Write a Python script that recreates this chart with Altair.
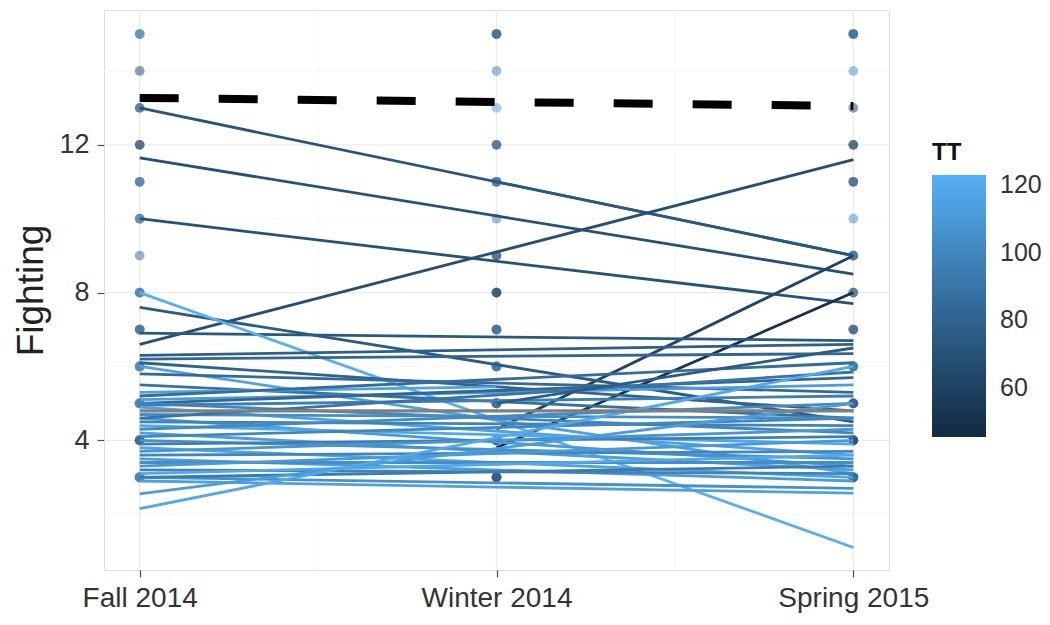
import altair as alt
import pandas as pd

# ---------------- data ----------------
time_labels = ["Fall 2014", "Winter 2014", "Spring 2015"]

# observed points: time index, Fighting value, TT colour, number of overlapping points
pt_time  = [0]*13 + [1]*13 + [2]*13
pt_value = [15, 14, 13, 12, 11, 10, 9, 8, 7, 6, 5, 4, 3] * 3
pt_tt    = [90, 60, 75, 60, 80, 85, 80, 95, 85, 100, 100, 85, 100,
            80, 95, 115, 70, 85, 95, 65, 65, 80, 90, 90, 75, 75,
            80, 105, 60, 60, 65, 100, 85, 70, 60, 85, 75, 70, 80]
pt_count = [2, 1, 2, 2, 2, 2, 1, 3, 3, 4, 6, 6, 6,
            3, 1, 1, 2, 3, 1, 2, 3, 3, 4, 6, 6, 5,
            3, 1, 1, 2, 2, 1, 3, 2, 2, 3, 4, 5, 5]

# per-subject fitted lines: start time, start value, end time, end value, TT
ln_x1 = [0, 0, 0, 1, 0, 1, 1, 0, 0, 0, 0, 0, 0, 0,
         0, 0, 0, 0, 0, 0, 0, 0, 0, 0, 0, 0, 0, 0, 0, 0, 0, 0, 0, 0, 0, 0, 0, 0, 0, 0, 0, 0, 0, 1,
         0, 0, 0]
ln_y1 = [13.0, 11.65, 10.0, 11.0, 6.6, 4.3, 3.8, 6.9, 7.6, 8.0, 6.3, 6.2, 6.1, 6.0,
         5.8, 5.5, 5.3, 5.2, 5.1, 5.0, 5.0, 4.95, 4.9, 4.7, 4.6, 4.6, 4.5, 4.4, 4.3, 4.2,
         4.1, 4.0, 3.9, 3.8, 3.7, 3.6, 3.5, 3.4, 3.3, 3.2, 3.1, 3.0, 3.0, 5.0,
         2.9, 2.55, 2.15]
ln_x2 = [2, 2, 2, 2, 2, 2, 2, 2, 2, 2, 2, 2, 2, 2,
         2, 2, 1, 2, 2, 2, 2, 2, 2, 2, 2, 2, 2, 2, 2, 2, 2, 2, 2, 2, 2, 2, 2, 2, 2, 2, 2, 2, 2, 2,
         2, 2, 2]
ln_y2 = [9.0, 8.5, 7.7, 9.0, 11.6, 9.0, 8.0, 6.7, 4.5, 1.1, 6.6, 6.35, 4.8, 3.1,
         5.3, 4.6, 5.45, 6.1, 5.5, 5.7, 4.2, 5.2, 3.6, 4.6, 3.3, 5.85, 4.4, 3.9, 5.0, 3.2,
         4.6, 3.5, 4.1, 3.0, 4.3, 3.7, 2.9, 3.4, 4.0, 3.1, 3.6, 2.7, 3.3, 6.5,
         2.57, 5.0, 6.0]
ln_tt = [72, 70, 70, 74, 68, 62, 50, 74, 76, 122, 78, 82, 80, 115,
         84, 88, 115, 86, 112, 82, 100, 96, 115, 104, 110, 90, 98, 118, 102, 113,
         100, 106, 96, 116, 108, 100, 112, 104, 110, 98, 118, 106, 94, 76,
         114, 112, 118]

mean_start, mean_end = 4.8, 4.8
ref_start, ref_end = 13.27, 13.05

major_y = [4, 8, 12]
minor_y = [2, 6, 10, 14]
major_x = [0, 1, 2]
minor_x = [0.5, 1.5]
legend_values = [60, 80, 100, 120]

# ---------------- tables ----------------
pts_rows = []
for t, v, tt, c in zip(pt_time, pt_value, pt_tt, pt_count):
    for _ in range(c):
        pts_rows.append({"t": t, "Fighting": v, "TT": tt})
pts = pd.DataFrame(pts_rows)

lines = pd.DataFrame({"x1": ln_x1, "y1": ln_y1, "x2": ln_x2, "y2": ln_y2, "TT": ln_tt})
mean_df = pd.DataFrame({"x1": [0], "x2": [2], "y1": [mean_start], "y2": [mean_end]})
ref_df = pd.DataFrame({"x1": [0], "x2": [2], "y1": [ref_start], "y2": [ref_end]})
grid_major_h = pd.DataFrame({"y": major_y})
grid_minor_h = pd.DataFrame({"y": minor_y})
grid_major_v = pd.DataFrame({"x": major_x})
grid_minor_v = pd.DataFrame({"x": minor_x})

FONT = "Liberation Sans"
xscale = alt.Scale(domain=[-0.1, 2.1], nice=False, zero=False)
yscale = alt.Scale(domain=[0.49, 15.65], nice=False, zero=False)
cscale = alt.Scale(domain=[45.5, 123], range=["#132B43", "#56B1F7"], interpolate="lab", nice=False, zero=False)

label_expr = "datum.value == 0 ? 'Fall 2014' : (datum.value == 1 ? 'Winter 2014' : 'Spring 2015')"
xaxis = alt.Axis(values=major_x, labelExpr=label_expr, grid=False, domain=False, title=None,
                 tickColor="#4d4d4d", tickSize=7, tickWidth=1.2, labelFontSize=28,
                 labelColor="#333333", labelPadding=7, labelFont=FONT)
yaxis = alt.Axis(values=major_y, grid=False, domain=False, title="Fighting",
                 tickColor="#4d4d4d", tickSize=7, tickWidth=1.2, labelFontSize=27,
                 labelColor="#333333", labelPadding=8, labelFont=FONT,
                 titleFontSize=37, titleFontWeight="normal", titleFont=FONT,
                 titleColor="#222222", titlePadding=8)

gmh = alt.Chart(grid_major_h).mark_rule(color="#ebebeb", strokeWidth=1.3).encode(
    y=alt.Y("y:Q", scale=yscale, axis=yaxis))
gnh = alt.Chart(grid_minor_h).mark_rule(color="#f5f5f5", strokeWidth=0.8).encode(
    y=alt.Y("y:Q", scale=yscale))
gmv = alt.Chart(grid_major_v).mark_rule(color="#ebebeb", strokeWidth=1.3).encode(
    x=alt.X("x:Q", scale=xscale, axis=xaxis))
gnv = alt.Chart(grid_minor_v).mark_rule(color="#f5f5f5", strokeWidth=0.8).encode(
    x=alt.X("x:Q", scale=xscale))

legend = alt.Legend(title="TT", type="gradient", orient="none", legendX=828, legendY=131,
                    values=legend_values, gradientLength=262, gradientThickness=54,
                    titleFontSize=24, titleFont=FONT, titleFontWeight="bold", titleColor="#111111",
                    titlePadding=10, labelFontSize=25, labelFont=FONT, labelColor="#333333",
                    labelOffset=14, gradientStrokeWidth=0, direction="vertical")

seg = alt.Chart(lines).mark_rule(strokeWidth=2.8, strokeCap="butt").encode(
    x=alt.X("x1:Q", scale=xscale), x2="x2:Q",
    y=alt.Y("y1:Q", scale=yscale), y2="y2:Q",
    color=alt.Color("TT:Q", scale=cscale, legend=legend))

points = alt.Chart(pts).mark_circle(size=95, opacity=0.5).encode(
    x=alt.X("t:Q", scale=xscale),
    y=alt.Y("Fighting:Q", scale=yscale),
    color=alt.Color("TT:Q", scale=cscale, legend=None))

mean_line = alt.Chart(mean_df).mark_rule(strokeWidth=3.2, color="#7f7f7f", strokeCap="butt").encode(
    x=alt.X("x1:Q", scale=xscale), x2="x2:Q",
    y=alt.Y("y1:Q", scale=yscale), y2="y2:Q")

ref_line = alt.Chart(ref_df).mark_rule(strokeWidth=8, color="black", strokeDash=[39, 40], strokeCap="butt").encode(
    x=alt.X("x1:Q", scale=xscale), x2="x2:Q",
    y=alt.Y("y1:Q", scale=yscale), y2="y2:Q")

chart = alt.layer(gnh, gnv, gmh, gmv, points, seg, mean_line, ref_line).resolve_legend(
    color="independent"
).properties(
    width=785, height=560,
    autosize=alt.AutoSizeParams(type="none"),
    padding={"left": 96, "top": 2, "right": 153, "bottom": 55},
).configure_view(stroke="#b3b3b3", strokeWidth=1.2).configure(background="white")

chart.save("out.html", embed_options={"renderer": "svg", "actions": False})
